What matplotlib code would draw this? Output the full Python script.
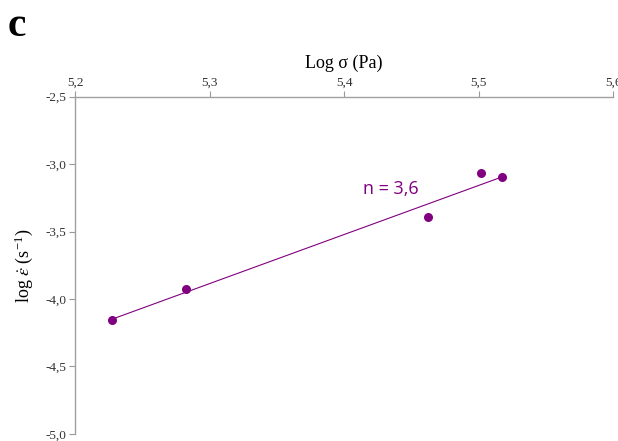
import numpy as np
import matplotlib.pyplot as plt

# données
log_sigma = [5.2277, 5.2823, 5.4627, 5.5016, 5.5172]
log_rate = [-4.156, -3.924, -3.395, -3.069, -3.099]
x_ticks = [5.2, 5.3, 5.4, 5.5, 5.6]
y_ticks = [-5.0, -4.5, -4.0, -3.5, -3.0, -2.5]

purple = '#800080'
plt.rcParams['font.family'] = ['Liberation Serif', 'DejaVu Serif']
plt.rcParams['mathtext.fontset'] = 'stix'

fig = plt.figure(figsize=(6.18, 4.41), dpi=100)
ax = fig.add_axes([0.1214, 0.016, 0.8706, 0.765])

ax.scatter(log_sigma, log_rate, s=30, color=purple, zorder=3)

# droite de régression
a, b = np.polyfit(log_sigma, log_rate, 1)
xs = np.array([min(log_sigma), max(log_sigma)])
ax.plot(xs, a * xs + b, color=purple, lw=0.8)
ax.text(5.414, -3.185, 'n = 3,6', color=purple, fontsize=13,
        family='Open Sans', va='center', ha='left')

ax.set_xlim(5.2, 5.6)
ax.set_ylim(-5.0, -2.5)
ax.xaxis.tick_top()
ax.xaxis.set_label_position('top')
ax.set_xticks(x_ticks)
ax.set_xticklabels([f'{v:.1f}'.replace('.', ',') for v in x_ticks])
ax.set_yticks(y_ticks)
ax.set_yticklabels([f'{v:.1f}'.replace('.', ',') for v in y_ticks])
ax.tick_params(axis='both', labelsize=9.5, length=4, width=0.8, color='#999999',
               labelcolor='#333333', pad=2)

for s in ['right', 'bottom']:
    ax.spines[s].set_visible(False)
for s in ['left', 'top']:
    ax.spines[s].set_color('#a0a0a0')
    ax.spines[s].set_linewidth(1.0)

ax.set_xlabel('Log σ (Pa)', fontsize=13, labelpad=6)
ax.set_ylabel(r'log $\dot{\varepsilon}$ (s$^{\mathregular{-1}}$)', fontsize=13, labelpad=8)

fig.text(0.012, 0.985, 'c', fontsize=30, fontweight='bold', va='top', ha='left')

fig.savefig('out.png', dpi=100)
